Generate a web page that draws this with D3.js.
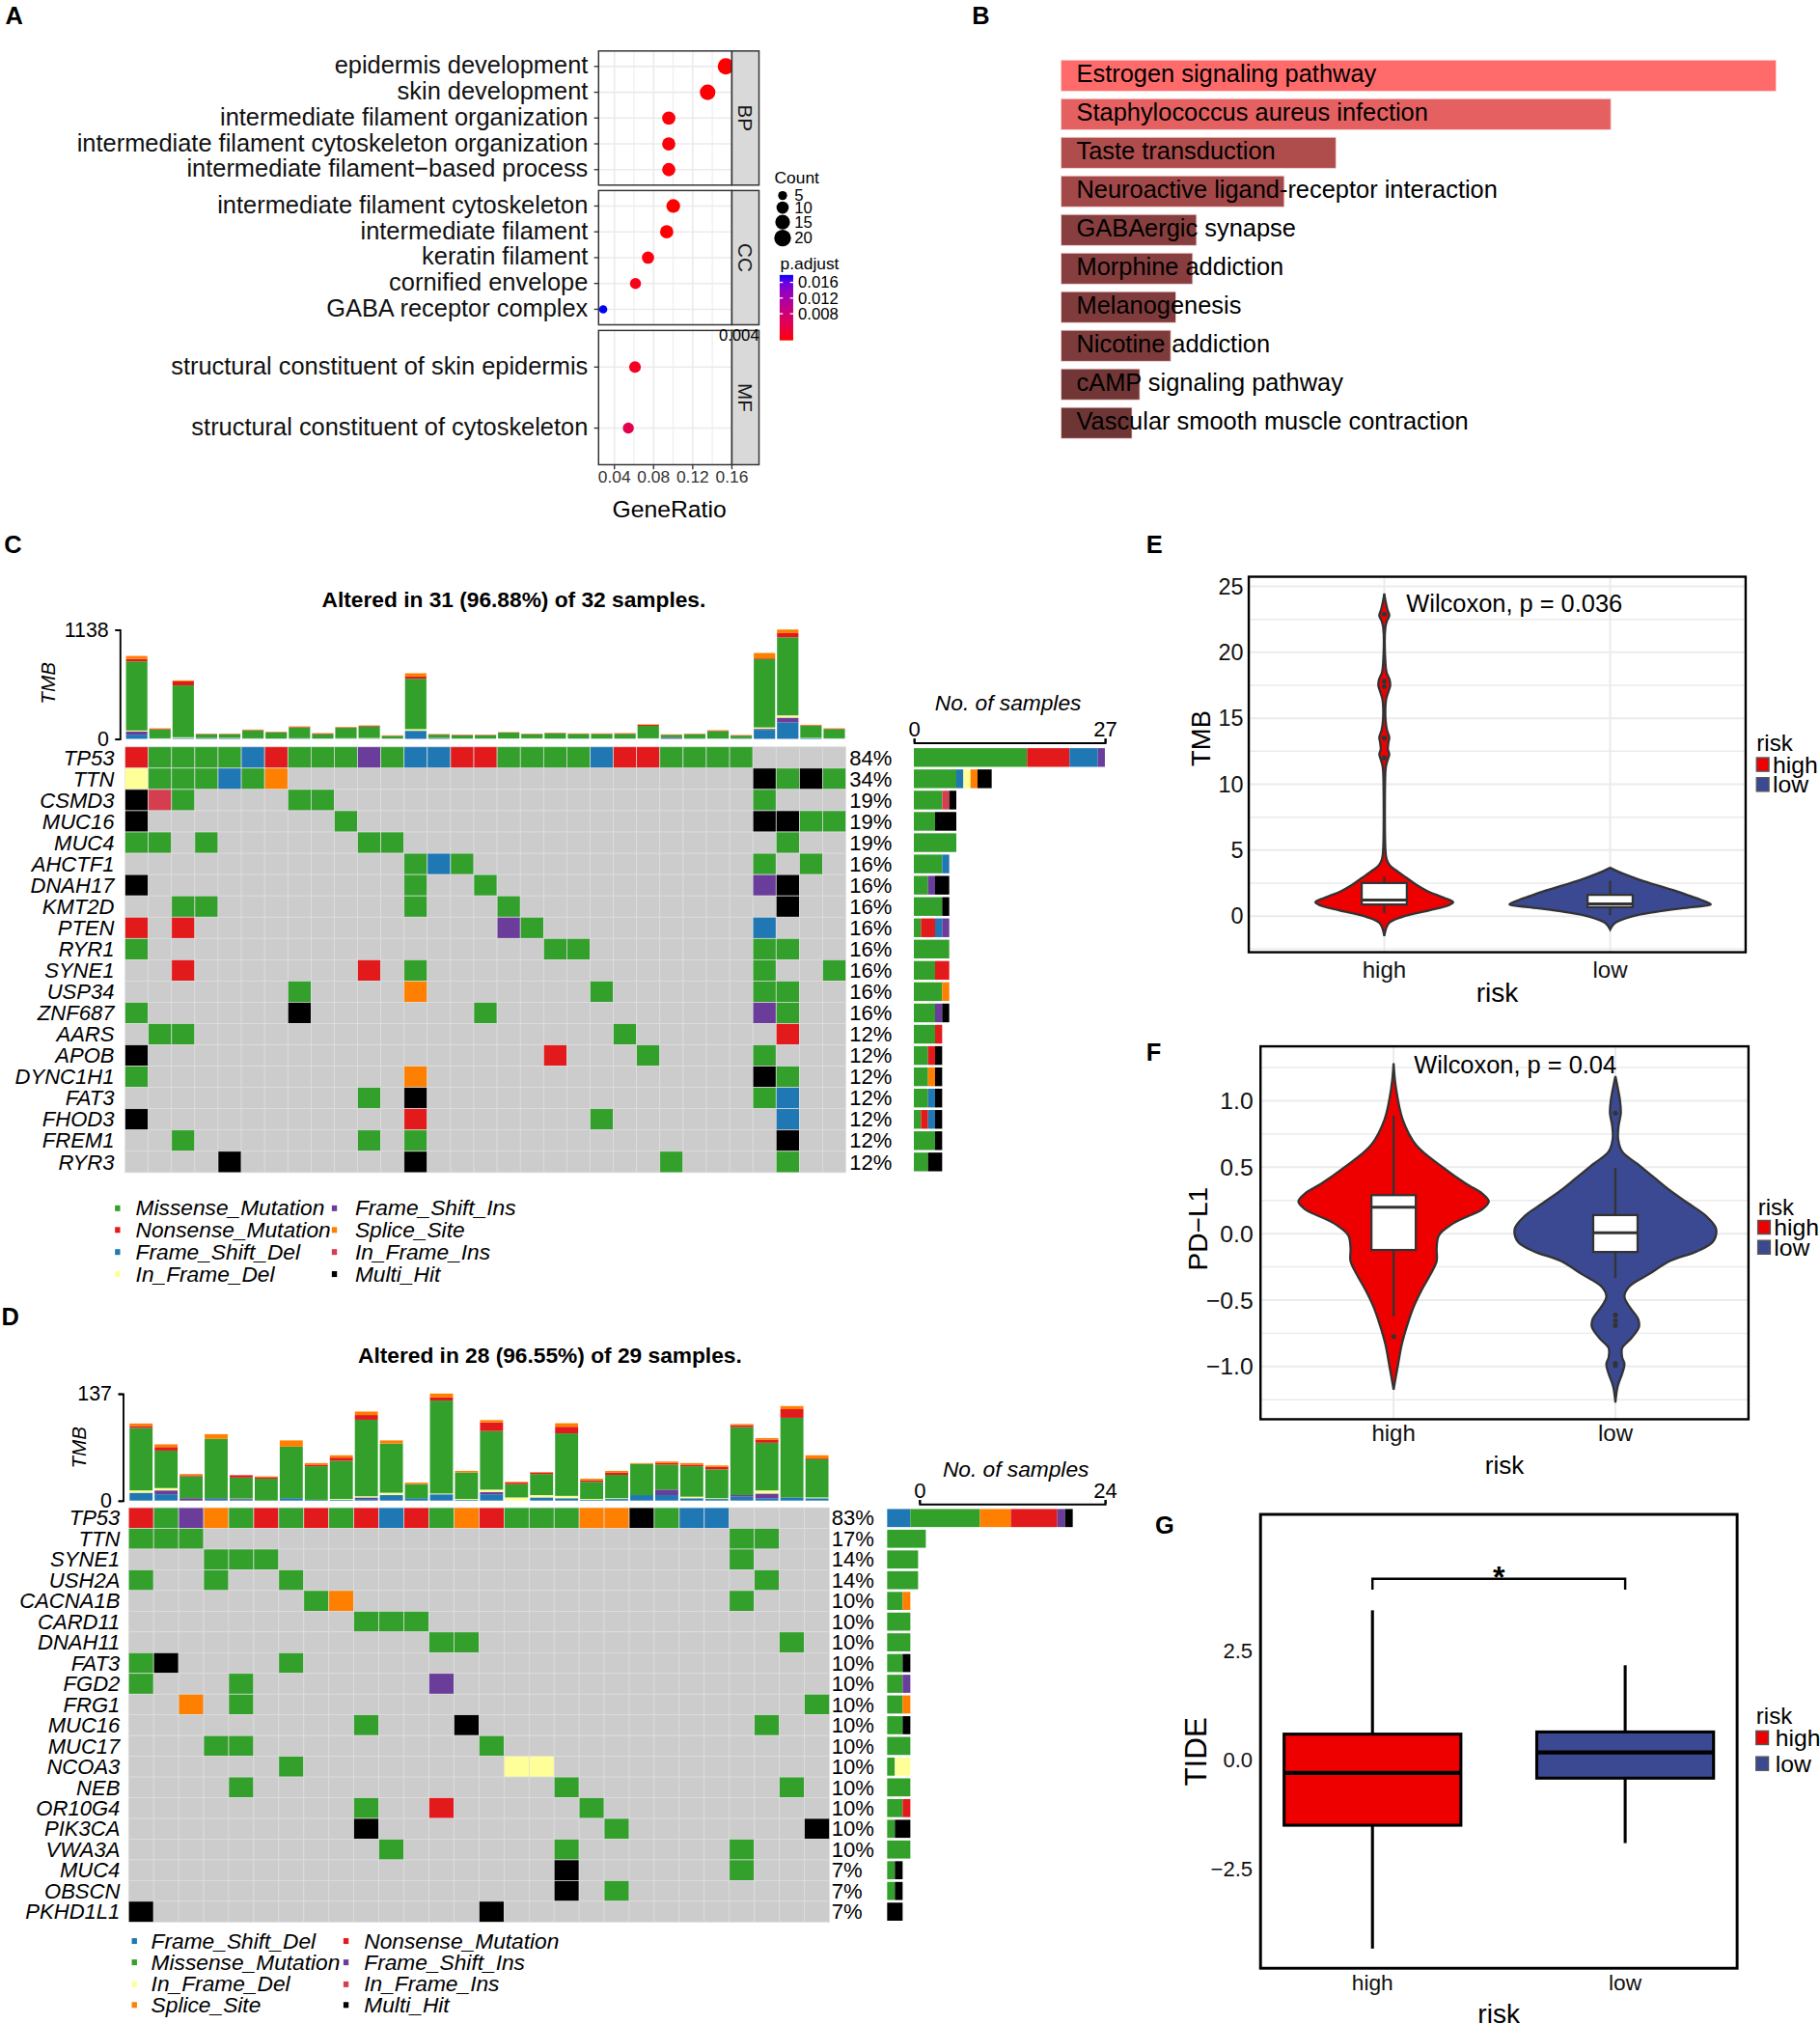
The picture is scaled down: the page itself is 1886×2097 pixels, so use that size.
<!DOCTYPE html>
<html>
<head>
<meta charset="utf-8">
<script src="https://cdn.jsdelivr.net/npm/d3@7"></script>
<style>
  html, body { margin: 0; padding: 0; background: #fff; }
  svg { display: block; font-family: "Liberation Sans", Arial, Helvetica, sans-serif; }
</style>
</head>
<body>
<div id="figure"></div>
<script>
// ================= DATA =================
// A: GO enrichment dot plot
var goTerms = ["epidermis development", "skin development", "intermediate filament organization",
  "intermediate filament cytoskeleton organization", "intermediate filament\u2212based process",
  "intermediate filament cytoskeleton", "intermediate filament", "keratin filament",
  "cornified envelope", "GABA receptor complex",
  "structural constituent of skin epidermis", "structural constituent of cytoskeleton"];
var goOnt = ["BP", "BP", "BP", "BP", "BP", "CC", "CC", "CC", "CC", "CC", "MF", "MF"];
var goRatio = [0.1538, 0.1352, 0.0955, 0.0955, 0.0955, 0.1001, 0.0934, 0.0743, 0.0615, 0.0285, 0.0610, 0.0542];
var goCount = [19, 17, 12, 12, 12, 13, 12, 10, 8, 4, 9, 8];
var goPadj = [0.0012, 0.0013, 0.0015, 0.0015, 0.0015, 0.0012, 0.0013, 0.0016, 0.0021, 0.0179, 0.0024, 0.0052];
var goXTicks = [0.04, 0.08, 0.12, 0.16];
var countBreaks = [5, 10, 15, 20];
var padjBreaks = [0.016, 0.012, 0.008];

// B: KEGG pathways
var keggTerms = ["Estrogen signaling pathway", "Staphylococcus aureus infection", "Taste transduction",
  "Neuroactive ligand-receptor interaction", "GABAergic synapse", "Morphine addiction",
  "Melanogenesis", "Nicotine addiction", "cAMP signaling pathway", "Vascular smooth muscle contraction"];
var keggScore = [5.54, 4.26, 2.13, 1.73, 1.05, 1.02, 0.89, 0.85, 0.61, 0.55];

// C: oncoplot (32 samples, 31 shown)
var cGenes = ["TP53", "TTN", "CSMD3", "MUC16", "MUC4", "AHCTF1", "DNAH17", "KMT2D", "PTEN", "RYR1",
  "SYNE1", "USP34", "ZNF687", "AARS", "APOB", "DYNC1H1", "FAT3", "FHOD3", "FREM1", "RYR3"];
// column + code: G missense, R nonsense, B frameshift del, Y inframe del, P frameshift ins, O splice, I inframe ins, K multi hit
var cHits = [
  "0R 1G 2G 3G 4G 5B 6R 7G 8G 9G 10P 11G 12B 13B 14R 15R 16G 17G 18G 19G 20B 21R 22R 23G 24G 25G 26G",
  "0Y 1G 2G 3G 4B 5G 6O 27K 28G 29K 30G",
  "0K 1I 2G 7G 8G 27G",
  "0K 9G 27K 28K 29G 30G",
  "0G 1G 3G 10G 11G 28G",
  "12G 13B 14G 27G 29G",
  "0K 12G 15G 27P 28K",
  "2G 3G 12G 16G 28K",
  "0R 2R 16P 17G 27B",
  "0G 18G 19G 27G 28G",
  "2R 10R 12G 27G 30G",
  "7G 12O 20G 27G 28G",
  "0G 7K 15G 27P 28G",
  "1G 2G 21G 28R",
  "0K 18R 22G 27G",
  "0G 12O 27K 28G",
  "10G 12K 27G 28B",
  "0K 12R 20G 28B",
  "2G 10G 12G 28K",
  "4K 12K 23G 28G"];
var cPct = ["84%", "34%", "19%", "19%", "19%", "16%", "16%", "16%", "16%", "16%", "16%", "16%", "16%",
  "12%", "12%", "12%", "12%", "12%", "12%", "12%"];
var cTmbFsd = [44, 3, 10, 4, 6, 3, 3, 4, 3, 3, 3, 3, 84, 5, 2, 2, 2, 2, 3, 3, 3, 3, 2, 6, 4, 3, 4, 94, 171, 8, 3];
var cTmbFsi = [33, 0, 0, 3, 2, 0, 0, 0, 0, 0, 0, 0, 0, 4, 0, 0, 0, 0, 0, 0, 0, 0, 0, 8, 0, 0, 0, 10, 50, 0, 0];
var cTmbInf = [10, 3, 7, 2, 3, 3, 2, 3, 2, 4, 6, 2, 17, 2, 2, 2, 3, 4, 2, 2, 2, 2, 4, 2, 2, 2, 2, 15, 23, 3, 3];
var cTmbMiss = [719, 92, 540, 39, 37, 82, 61, 112, 45, 108, 120, 25, 525, 33, 32, 33, 60, 42, 53, 46, 45, 47, 130, 26, 42, 76, 27, 710, 813, 126, 96];
var cTmbNon = [27, 6, 42, 3, 3, 4, 4, 5, 6, 4, 7, 3, 24, 3, 5, 4, 2, 3, 3, 3, 4, 4, 10, 2, 3, 4, 4, 8, 44, 5, 4];
var cTmbSpl = [30, 6, 10, 3, 3, 5, 4, 6, 4, 5, 4, 4, 33, 3, 2, 2, 3, 3, 3, 3, 3, 4, 5, 3, 3, 5, 3, 57, 37, 5, 4];
var cLegend = ["G", "R", "B", "Y", "P", "O", "I", "K"];

// D: oncoplot (29 samples, 28 shown)
var dGenes = ["TP53", "TTN", "SYNE1", "USH2A", "CACNA1B", "CARD11", "DNAH11", "FAT3", "FGD2", "FRG1",
  "MUC16", "MUC17", "NCOA3", "NEB", "OR10G4", "PIK3CA", "VWA3A", "MUC4", "OBSCN", "PKHD1L1"];
var dHits = [
  "0R 1G 2P 3O 4G 5R 6G 7R 8G 9R 10B 11R 12G 13O 14R 15G 16G 17G 18O 19O 20K 21G 22B 23B",
  "0G 1G 2G 24G 25G",
  "3G 4G 5G 24G",
  "0G 3G 6G 25G",
  "7G 8O 24G",
  "9G 10G 11G",
  "12G 13G 26G",
  "0G 1K 6G",
  "0G 4G 12P",
  "2O 4G 27G",
  "9G 13K 25G",
  "3G 4G 14G",
  "6G 15Y 16Y",
  "4G 17G 26G",
  "9G 12R 18G",
  "9K 19G 27K",
  "10G 17G 24G",
  "17K 24G",
  "17K 19G",
  "0K 14K"];
var dPct = ["83%", "17%", "14%", "14%", "10%", "10%", "10%", "10%", "10%", "10%", "10%", "10%", "10%",
  "10%", "10%", "10%", "10%", "7%", "7%", "7%"];
var dTmbFsd = [10, 8, 0, 2, 1, 0, 3, 1, 1, 2, 7, 3, 8, 1, 8, 0, 4, 3, 1, 2, 7, 7, 3, 2, 5, 3, 4, 3];
var dTmbFsi = [0, 5, 3, 1, 1, 0, 0, 0, 0, 2, 0, 0, 0, 0, 3, 0, 0, 0, 0, 0, 0, 7, 0, 0, 2, 6, 0, 0];
var dTmbInf = [3, 3, 0, 0, 0.5, 0, 0, 0, 1, 1.5, 3, 0, 1, 1, 3, 4, 3, 3, 1, 1, 0, 0, 2, 1, 0, 4, 0, 1];
var dTmbMiss = [80, 48, 28, 76, 27, 28, 66, 43, 49, 98, 63, 18, 119, 34, 75, 17, 27, 80, 22, 30, 40, 32, 39, 37, 87, 61, 102, 49];
var dTmbNon = [2.5, 4.5, 1.5, 0, 3, 2, 0, 2, 4, 6, 0, 0, 4, 0, 11, 2, 2, 8.5, 2, 3, 0, 2, 2, 3, 2.5, 4, 11, 1];
var dTmbSpl = [3.2, 3.5, 1.5, 6, 0, 1, 8, 2, 3, 4.5, 4, 2, 5, 2, 3, 1, 0.5, 4.5, 2, 2, 1, 2, 2, 2, 1.5, 2, 4, 4];
var dLegend = ["B", "G", "Y", "O", "R", "P", "I", "K"];

// E/F/G: risk groups
var riskGroups = ["high", "low"];
// violin outlines: [value, relative half width]
var eViolinHigh = [[-1.51, 0], [-0.54, 10], [-0.05, 40], [0.44, 100], [0.80, 140], [1.05, 152], [1.41, 130],
  [1.90, 95], [2.39, 70], [2.88, 50], [3.37, 30], [3.85, 12], [4.34, 5], [5.07, 2.5], [10.93, 2.5],
  [11.41, 4], [11.90, 8], [12.27, 11], [12.63, 8], [13.12, 9], [13.56, 11], [14.10, 6], [14.83, 3],
  [15.80, 2.5], [16.41, 4], [17.02, 9], [17.46, 13], [17.88, 12], [18.49, 5], [19.22, 2.5], [21.90, 2.5],
  [22.39, 6], [22.80, 11], [23.24, 7], [23.85, 3], [24.46, 0]];
var eViolinLow = [[-1.02, 0], [-0.54, 10], [-0.05, 45], [0.32, 100], [0.68, 180], [0.88, 222], [1.17, 205],
  [1.54, 175], [1.90, 145], [2.27, 110], [2.63, 75], [3.00, 45], [3.37, 18], [3.66, 0]];
var eBoxHigh = [0.24, 0.88, 1.22, 2.51, 3.0];   // lower whisker, q1, median, q3, upper whisker
var eBoxLow = [0.07, 0.68, 0.93, 1.61, 2.68];
var eOutHigh = [12.0, 13.5, 17.4, 17.8, 22.9];
var eOutLow = [];
var eTicks = [0, 5, 10, 15, 20, 25];

var fViolinHigh = [[-1.174, 0], [-1.077, 5], [-0.981, 10], [-0.835, 18], [-0.690, 30], [-0.545, 45],
  [-0.424, 62], [-0.303, 82], [-0.206, 95], [-0.109, 95], [-0.012, 100], [0.085, 135], [0.182, 195],
  [0.242, 210], [0.303, 195], [0.375, 160], [0.496, 110], [0.666, 50], [0.860, 20], [1.102, 5], [1.283, 0]];
var fViolinLow = [[-1.271, 0], [-1.150, 5], [-1.053, 15], [-0.981, 20], [-0.932, 15], [-0.860, 15],
  [-0.787, 35], [-0.702, 52], [-0.642, 50], [-0.545, 30], [-0.472, 20], [-0.400, 30], [-0.303, 75],
  [-0.206, 120], [-0.133, 180], [-0.061, 215], [0.036, 222], [0.133, 200], [0.230, 160], [0.327, 120],
  [0.424, 85], [0.521, 50], [0.617, 15], [0.714, 6], [0.811, 7], [0.908, 12], [1.005, 10], [1.102, 5], [1.186, 0]];
var fBoxHigh = [-0.622, -0.123, 0.199, 0.29, 0.889];
var fBoxLow = [-0.334, -0.138, 0.007, 0.140, 0.496];
var fOutHigh = [-0.775];
var fOutLow = [0.908, -0.613, -0.654, -0.690, -0.976, -0.993];
var fTicks = [-1, -0.5, 0, 0.5, 1];

var gBoxHigh = [-4.33, -1.5, -0.3, 0.59, 3.43];
var gBoxLow = [-1.91, -0.42, 0.17, 0.64, 2.17];
var gTicks = [-2.5, 0, 2.5];

// ================= STYLE =================
var vcColor = {G: "#33A02C", R: "#E31A1C", B: "#1F78B4", Y: "#FFFF99", P: "#6A3D9A", O: "#FF7F00", I: "#D53E4F", K: "#000000"};
var vcName = {G: "Missense_Mutation", R: "Nonsense_Mutation", B: "Frame_Shift_Del", Y: "In_Frame_Del",
  P: "Frame_Shift_Ins", O: "Splice_Site", I: "In_Frame_Ins", K: "Multi_Hit"};
var tmbColor = {fsd: "#1F78B4", fsi: "#6A3D9A", inf: "#FFFF99", miss: "#33A02C", non: "#E31A1C", spl: "#FF7F00"};
var riskColor = {high: "#EE0000", low: "#3B4992"};

var svg = d3.select("#figure").append("svg")
  .attr("width", 1886).attr("height", 2097)
  .attr("viewBox", "0 0 1410 1568");

// panel letters
[["A", 4, 18.7], ["B", 753, 18.5], ["C", 3, 428.6], ["D", 1, 1026.7], ["E", 888, 428.6], ["F", 888, 822], ["G", 895, 1188]]
  .forEach(function(l) {
    svg.append("text").attr("x", l[1]).attr("y", l[2]).attr("font-size", 19).attr("font-weight", "bold").text(l[0]);
  });

// ================= A =================
var ax0 = 463.7, ax1 = 567, stripW = 21;
var facets = {BP: [39.5, 143.4], CC: [147.6, 251.6], MF: [256, 360]};
var xGo = d3.scaleLinear().domain([0.0238, 0.16]).range([ax0, ax1]);
var rGo = d3.scaleLinear().domain([Math.sqrt(5), Math.sqrt(20)]).range([3.5, 6.5]);
var colGo = d3.scaleLinear().domain([0.0012, 0.0179]).range(["red", "blue"]).interpolate(d3.interpolateLab);
var defs = svg.append("defs");
var gA = svg.append("g");

["BP", "CC", "MF"].forEach(function(ont) {
  var idx = d3.range(goTerms.length).filter(function(i) { return goOnt[i] === ont; });
  var top = facets[ont][0], bot = facets[ont][1];
  var y = d3.scalePoint().domain(idx).range([top, bot]).padding(0.6);
  var pg = gA.append("g");
  pg.append("rect").attr("x", ax0).attr("y", top).attr("width", ax1 - ax0).attr("height", bot - top).attr("fill", "#fff");
  d3.range(0.04, 0.155, 0.02).forEach(function(v, k) {
    pg.append("line").attr("x1", xGo(v)).attr("x2", xGo(v)).attr("y1", top).attr("y2", bot)
      .attr("stroke", "#ebebeb").attr("stroke-width", k % 2 === 0 ? 1.2 : 0.7);
  });
  idx.forEach(function(i) {
    pg.append("line").attr("x1", ax0).attr("x2", ax1).attr("y1", y(i)).attr("y2", y(i))
      .attr("stroke", "#ebebeb").attr("stroke-width", 1.2);
  });
  defs.append("clipPath").attr("id", "clip" + ont).append("rect")
    .attr("x", ax0).attr("y", top).attr("width", ax1 - ax0).attr("height", bot - top);
  pg.append("g").attr("clip-path", "url(#clip" + ont + ")")
    .selectAll("circle").data(idx).join("circle")
    .attr("cx", function(i) { return xGo(goRatio[i]); })
    .attr("cy", function(i) { return y(i); })
    .attr("r", function(i) { return rGo(Math.sqrt(goCount[i])); })
    .attr("fill", function(i) { return colGo(goPadj[i]); });
  pg.append("rect").attr("x", ax0).attr("y", top).attr("width", ax1 - ax0).attr("height", bot - top)
    .attr("fill", "none").attr("stroke", "#333").attr("stroke-width", 1.1);
  pg.append("rect").attr("x", ax1).attr("y", top).attr("width", stripW).attr("height", bot - top)
    .attr("fill", "#d9d9d9").attr("stroke", "#333").attr("stroke-width", 1.1);
  pg.append("text").attr("transform", "translate(" + (ax1 + stripW / 2) + "," + ((top + bot) / 2) + ") rotate(90)")
    .attr("text-anchor", "middle").attr("dy", "0.35em").attr("font-size", 15.5).attr("fill", "#1a1a1a").text(ont);
  idx.forEach(function(i) {
    pg.append("line").attr("x1", ax0 - 3.5).attr("x2", ax0).attr("y1", y(i)).attr("y2", y(i)).attr("stroke", "#333");
    pg.append("text").attr("x", 455.5).attr("y", y(i) - 1).attr("dy", "0.35em").attr("text-anchor", "end")
      .attr("font-size", 19).attr("fill", "#111").text(goTerms[i]);
  });
});
goXTicks.forEach(function(v) {
  gA.append("line").attr("x1", xGo(v)).attr("x2", xGo(v)).attr("y1", 360).attr("y2", 363.5).attr("stroke", "#333");
  gA.append("text").attr("x", xGo(v)).attr("y", 374).attr("text-anchor", "middle").attr("font-size", 13)
    .attr("fill", "#333").text(v.toFixed(2));
});
gA.append("text").attr("x", 518.5).attr("y", 400.5).attr("text-anchor", "middle").attr("font-size", 18.5).text("GeneRatio");
// Count legend
gA.append("text").attr("x", 600).attr("y", 142).attr("font-size", 13).text("Count");
var countY = [151.5, 160.8, 172, 184.4];
countBreaks.forEach(function(c, k) {
  gA.append("circle").attr("cx", 606.3).attr("cy", countY[k]).attr("r", rGo(Math.sqrt(c))).attr("fill", "#000");
  gA.append("text").attr("x", 615.5).attr("y", countY[k]).attr("dy", "0.35em").attr("font-size", 12.5).text(c);
});
// p.adjust colorbar
gA.append("text").attr("x", 604.5).attr("y", 208.5).attr("font-size", 13).text("p.adjust");
var grad = defs.append("linearGradient").attr("id", "padjGrad").attr("x1", 0).attr("x2", 0).attr("y1", 1).attr("y2", 0);
d3.range(0, 1.001, 0.1).forEach(function(t) {
  grad.append("stop").attr("offset", t).attr("stop-color", colGo(0.0012 + t * (0.0179 - 0.0012)));
});
var yBar = d3.scaleLinear().domain([0.0012, 0.0179]).range([263.7, 213]);
gA.append("rect").attr("x", 604).attr("y", 213).attr("width", 10.5).attr("height", 50.7).attr("fill", "url(#padjGrad)");
padjBreaks.forEach(function(v) {
  gA.append("line").attr("x1", 604).attr("x2", 606.5).attr("y1", yBar(v)).attr("y2", yBar(v)).attr("stroke", "#fff");
  gA.append("line").attr("x1", 612).attr("x2", 614.5).attr("y1", yBar(v)).attr("y2", yBar(v)).attr("stroke", "#fff");
  gA.append("text").attr("x", 618.3).attr("y", yBar(v)).attr("dy", "0.35em").attr("font-size", 12.5).text(v.toFixed(3));
});
gA.append("text").attr("x", 572.5).attr("y", 264).attr("text-anchor", "middle").attr("font-size", 12.5).text("0.004");

// ================= B =================
var gB = svg.append("g");
var xK = d3.scaleLinear().domain([0, d3.max(keggScore)]).range([822, 1376]);
var yK = d3.scaleBand().domain(keggTerms).range([43.6, 342.6]).paddingInner(0.197).paddingOuter(0.0985);
var colK = d3.scalePow().exponent(0.5).domain([d3.min(keggScore), d3.max(keggScore)]).range(["#6e3535", "#ff6a6a"]);
gB.selectAll("rect").data(keggTerms).join("rect")
  .attr("x", xK(0)).attr("y", function(d) { return yK(d); })
  .attr("width", function(d, i) { return xK(keggScore[i]) - xK(0); })
  .attr("height", yK.bandwidth())
  .attr("fill", function(d, i) { return colK(keggScore[i]); })
  .attr("stroke", "#f6d6d6").attr("stroke-width", 0.6);
gB.selectAll("text").data(keggTerms).join("text")
  .attr("x", 834).attr("y", function(d) { return yK(d) + yK.bandwidth() / 2 - 1.5; })
  .attr("dy", "0.35em").attr("font-size", 19).attr("fill", "#000").text(function(d) { return d; });

// ================= C / D =================
function parseHits(s) {
  return s.split(" ").map(function(t) { return {col: +t.slice(0, -1), code: t.slice(-1)}; });
}
function oncoplot(o) {
  var g = svg.append("g");
  var x = d3.scaleBand().domain(d3.range(o.ncol)).range([o.x0, o.x1]);
  var y = d3.scaleBand().domain(o.genes).range([o.top, o.top + o.genes.length * o.rowH]);
  g.append("text").attr("x", o.titleX).attr("y", o.titleY).attr("text-anchor", "middle")
    .attr("font-size", 17).attr("font-weight", "bold").text(o.title);

  // TMB stacked bars
  var keys = ["fsd", "fsi", "inf", "miss", "non", "spl"];
  var rows = d3.range(o.ncol).map(function(i) {
    var r = {i: i};
    keys.forEach(function(k) { r[k] = o.tmb[k][i]; });
    return r;
  });
  var yT = d3.scaleLinear().domain([0, o.tmbMax]).range([o.tmbBase, o.tmbTop]);
  g.append("g").selectAll("g").data(d3.stack().keys(keys)(rows)).join("g")
    .attr("fill", function(d) { return tmbColor[d.key]; })
    .selectAll("rect").data(function(d) { return d; }).join("rect")
    .attr("x", function(d) { return x(d.data.i) + x.bandwidth() * 0.04; })
    .attr("width", x.bandwidth() * 0.92)
    .attr("y", function(d) { return yT(d[1]); })
    .attr("height", function(d) { return Math.max(0, yT(d[0]) - yT(d[1])); });
  var axL = g.append("g").attr("transform", "translate(" + o.axisX + ",0)")
    .call(d3.axisLeft(yT).tickValues([0, o.tmbMax]).tickSize(3.5).tickSizeOuter(3.5).tickPadding(5).tickFormat(d3.format("d")));
  axL.attr("font-family", null).attr("font-size", null);
  axL.selectAll("path,line").attr("stroke", "#000").attr("stroke-width", 1.4);
  axL.selectAll("text").attr("font-size", 16).attr("fill", "#000");
  g.append("text").attr("transform", "translate(" + o.tmbLabel[0] + "," + o.tmbLabel[1] + ") rotate(-90)")
    .attr("text-anchor", "middle").attr("dy", "0.35em").attr("font-size", 15.5).attr("font-style", "italic").text("TMB");

  // matrix
  g.append("g").selectAll("g").data(o.genes).join("g").each(function(gene, r) {
    var row = d3.select(this);
    var hits = parseHits(o.hits[r]);
    var byCol = {};
    hits.forEach(function(h) { byCol[h.col] = h.code; });
    row.selectAll("rect").data(d3.range(o.ncol)).join("rect")
      .attr("x", function(c) { return x(c); }).attr("y", y(gene))
      .attr("width", x.bandwidth()).attr("height", y.bandwidth())
      .attr("fill", function(c) { return byCol[c] ? vcColor[byCol[c]] : "#CCCCCC"; })
      .attr("stroke", "#dedede").attr("stroke-width", 0.5);
    row.append("text").attr("x", o.labelX).attr("y", y(gene) + y.bandwidth() / 2).attr("dy", "0.35em")
      .attr("text-anchor", "end").attr("font-size", 16.5).attr("font-style", "italic").text(gene);
    row.append("text").attr("x", o.pctX).attr("y", y(gene) + y.bandwidth() / 2).attr("dy", "0.35em")
      .attr("font-size", 16.5).text(o.pct[r]);
    // side bar
    var counts = o.legend.map(function(code) {
      return {code: code, n: hits.filter(function(h) { return h.code === code; }).length};
    });
    var acc = 0;
    var bh = o.sideBarH;
    counts.forEach(function(c) {
      if (!c.n) return;
      row.append("rect").attr("x", o.sideX + o.sideScale(acc)).attr("y", y(gene) + (y.bandwidth() - bh) / 2)
        .attr("width", o.sideScale(c.n)).attr("height", bh).attr("fill", vcColor[c.code]);
      acc += c.n;
    });
  });

  // side axis
  var sx = d3.scaleLinear().domain([0, o.sideMax]).range([o.sideAxisX, o.sideAxisX + o.sideScale(o.sideMax)]);
  var axT = g.append("g").attr("transform", "translate(0," + o.sideAxisY + ")")
    .call(d3.axisTop(sx).tickValues([0, o.sideMax]).tickSize(3).tickSizeOuter(3).tickPadding(1.5));
  axT.attr("font-family", null).attr("font-size", null);
  axT.selectAll("path,line").attr("stroke", "#000").attr("stroke-width", 1.5);
  axT.selectAll("text").attr("font-size", 16.5).attr("fill", "#000");
  g.append("text").attr("x", o.sideTitle[0]).attr("y", o.sideTitle[1]).attr("text-anchor", "middle")
    .attr("font-size", 17).attr("font-style", "italic").text("No. of samples");

  // legend (two columns of four)
  o.legend.forEach(function(code, k) {
    var col = Math.floor(k / 4), rr = k % 4;
    var cy = o.legRows[rr];
    g.append("rect").attr("x", o.legSq[col]).attr("y", cy - 2).attr("width", 4).attr("height", 4.5)
      .attr("fill", vcColor[code]);
    g.append("text").attr("x", o.legTx[col]).attr("y", cy).attr("dy", "0.35em").attr("font-size", 17)
      .attr("font-style", "italic").text(vcName[code]);
  });
}

oncoplot({
  title: "Altered in 31 (96.88%) of 32 samples.", titleX: 398, titleY: 470.5,
  genes: cGenes, hits: cHits, pct: cPct, legend: cLegend, ncol: 31,
  x0: 96.8, x1: 655.3, top: 578.6, rowH: 16.49,
  tmb: {fsd: cTmbFsd, fsi: cTmbFsi, inf: cTmbInf, miss: cTmbMiss, non: cTmbNon, spl: cTmbSpl},
  tmbMax: 1138, tmbBase: 572.4, tmbTop: 487.7, axisX: 92.7, tmbLabel: [37.4, 529.3],
  labelX: 88.5, pctX: 658,
  sideX: 708, sideMax: 27, sideScale: d3.scaleLinear().domain([0, 27]).range([0, 148]), sideBarH: 14.5,
  sideAxisX: 708, sideAxisY: 575.2, sideTitle: [781, 550],
  legSq: [89, 257], legTx: [105, 275], legRows: [935.8, 952.6, 969.7, 986.8]
});
oncoplot({
  title: "Altered in 28 (96.55%) of 29 samples.", titleX: 426, titleY: 1055.5,
  genes: dGenes, hits: dHits, pct: dPct, legend: dLegend, ncol: 28,
  x0: 99.5, x1: 642.6, top: 1168, rowH: 16.05,
  tmb: {fsd: dTmbFsd, fsi: dTmbFsi, inf: dTmbInf, miss: dTmbMiss, non: dTmbNon, spl: dTmbSpl},
  tmbMax: 137, tmbBase: 1162.5, tmbTop: 1079.6, axisX: 95.1, tmbLabel: [60.8, 1121.4],
  labelX: 92.9, pctX: 644.2,
  sideX: 687.3, sideMax: 24, sideScale: d3.scaleLinear().domain([0, 24]).range([0, 143.8]), sideBarH: 14,
  sideAxisX: 712.2, sideAxisY: 1165, sideTitle: [787, 1144],
  legSq: [102, 266], legTx: [117, 282], legRows: [1503.5, 1520, 1537, 1553]
});

// ================= E / F / G =================
var wScale = d3.scaleLinear().domain([0, 222]).range([0, 78]);

function drawBox(g, cx, hw, b, y, fill, stroke, sw) {
  g.append("line").attr("x1", cx).attr("x2", cx).attr("y1", y(b[4])).attr("y2", y(b[3])).attr("stroke", stroke).attr("stroke-width", sw);
  g.append("line").attr("x1", cx).attr("x2", cx).attr("y1", y(b[1])).attr("y2", y(b[0])).attr("stroke", stroke).attr("stroke-width", sw);
  g.append("rect").attr("x", cx - hw).attr("y", y(b[3])).attr("width", 2 * hw).attr("height", y(b[1]) - y(b[3]))
    .attr("fill", fill).attr("stroke", stroke).attr("stroke-width", sw);
  g.append("line").attr("x1", cx - hw).attr("x2", cx + hw).attr("y1", y(b[2])).attr("y2", y(b[2]))
    .attr("stroke", stroke).attr("stroke-width", sw * 1.35);
}

function statPanel(o) {
  var g = svg.append("g");
  var x = d3.scalePoint().domain(riskGroups).range([o.x0, o.x1]).padding(o.pad);
  var y = d3.scaleLinear().domain(o.yDomain).range([o.y1, o.y0]);
  g.append("rect").attr("x", o.x0).attr("y", o.y0).attr("width", o.x1 - o.x0).attr("height", o.y1 - o.y0).attr("fill", "#fff");
  if (o.gridStep) {
    var lo = Math.ceil(o.yDomain[0] / o.gridStep), hi = Math.floor(o.yDomain[1] / o.gridStep);
    d3.range(lo, hi + 1).forEach(function(k) {
      g.append("line").attr("x1", o.x0).attr("x2", o.x1).attr("y1", y(k * o.gridStep)).attr("y2", y(k * o.gridStep))
        .attr("stroke", "#ebebeb").attr("stroke-width", k % 2 === 0 ? 1.5 : 1.1);
    });
    riskGroups.forEach(function(grp) {
      g.append("line").attr("x1", x(grp)).attr("x2", x(grp)).attr("y1", o.y0).attr("y2", o.y1)
        .attr("stroke", "#ebebeb").attr("stroke-width", 1.5);
    });
  }
  riskGroups.forEach(function(grp, k) {
    var cx = x(grp);
    if (o.violins) {
      var area = d3.area().curve(d3.curveCatmullRom)
        .y(function(d) { return y(d[0]); })
        .x0(function(d) { return cx - wScale(d[1]); })
        .x1(function(d) { return cx + wScale(d[1]); });
      g.append("path").attr("d", area(o.violins[k])).attr("fill", riskColor[grp])
        .attr("stroke", "#333").attr("stroke-width", 1.7);
      drawBox(g, cx, o.boxHW, o.boxes[k], y, "#fff", "#333", 1.7);
      o.outliers[k].forEach(function(v) {
        g.append("circle").attr("cx", cx).attr("cy", y(v)).attr("r", 1.9).attr("fill", "#333");
      });
    } else {
      drawBox(g, cx, o.boxHW, o.boxes[k], y, riskColor[grp], "#000", 2.3);
    }
    g.append("text").attr("x", cx).attr("y", o.xLabY).attr("text-anchor", "middle").attr("font-size", o.xLabSize)
      .attr("fill", "#111").text(grp);
  });
  g.append("rect").attr("x", o.x0).attr("y", o.y0).attr("width", o.x1 - o.x0).attr("height", o.y1 - o.y0)
    .attr("fill", "none").attr("stroke", "#000").attr("stroke-width", o.frameW);
  o.ticks.forEach(function(v) {
    g.append("text").attr("x", o.tickX).attr("y", y(v)).attr("dy", "0.35em").attr("text-anchor", "end")
      .attr("font-size", o.tickSize).attr("fill", "#111").text(o.tickFmt(v));
  });
  g.append("text").attr("transform", "translate(" + o.yTitle[0] + "," + o.yTitle[1] + ") rotate(-90)")
    .attr("text-anchor", "middle").attr("dy", "0.35em").attr("font-size", o.yTitleSize).text(o.yTitleText);
  g.append("text").attr("x", (o.x0 + o.x1) / 2).attr("y", o.xTitleY).attr("text-anchor", "middle")
    .attr("font-size", o.xTitleSize).text("risk");
  if (o.note) {
    g.append("text").attr("x", o.note[0]).attr("y", o.note[1]).attr("font-size", 19).text(o.note[2]);
  }
  // legend
  var L = o.legend;
  g.append("text").attr("x", L.x).attr("y", L.titleY).attr("font-size", 18).text("risk");
  riskGroups.forEach(function(grp, k) {
    g.append("rect").attr("x", L.x).attr("y", L.sqY[k]).attr("width", 9.5).attr("height", 10.5)
      .attr("fill", riskColor[grp]).attr("stroke", "#555").attr("stroke-width", 1.1);
    g.append("text").attr("x", L.tx).attr("y", L.sqY[k] + 5.2).attr("dy", "0.35em").attr("font-size", 18.5).text(grp);
  });
  return {x: x, y: y, g: g};
}

statPanel({
  x0: 967.5, x1: 1352.5, y0: 446.8, y1: 737.7, pad: 0.6, yDomain: [-2.74, 25.73], gridStep: 2.5,
  violins: [eViolinHigh, eViolinLow], boxes: [eBoxHigh, eBoxLow], outliers: [eOutHigh, eOutLow], boxHW: 17.5,
  ticks: eTicks, tickFmt: d3.format("d"), tickX: 963.3, tickSize: 17.5,
  xLabY: 757.5, xLabSize: 18, xTitleY: 776, xTitleSize: 21,
  yTitle: [930, 572], yTitleSize: 20.5, yTitleText: "TMB", frameW: 1.8,
  note: [1089.6, 474, "Wilcoxon, p = 0.036"],
  legend: {x: 1361, titleY: 582, sqY: [587, 602.5], tx: 1373.5}
});
statPanel({
  x0: 976.6, x1: 1354.7, y0: 810.6, y1: 1099.5, pad: 0.6, yDomain: [-1.397, 1.41], gridStep: 0.25,
  violins: [fViolinHigh, fViolinLow], boxes: [fBoxHigh, fBoxLow], outliers: [fOutHigh, fOutLow], boxHW: 17.2,
  ticks: fTicks, tickFmt: function(v) { return d3.format(".1f")(v).replace("-", "\u2212"); }, tickX: 971, tickSize: 18.5,
  xLabY: 1116.5, xLabSize: 18, xTitleY: 1142, xTitleSize: 19.5,
  yTitle: [928, 952], yTitleSize: 21, yTitleText: "PD\u2212L1", frameW: 1.8,
  note: [1095.6, 831.5, "Wilcoxon, p = 0.04"],
  legend: {x: 1362, titleY: 941.5, sqY: [945.5, 961], tx: 1374.5}
});
var pG = statPanel({
  x0: 976.6, x1: 1345.9, y0: 1173.2, y1: 1524.8, pad: 0.443, yDomain: [-4.78, 5.63], gridStep: 0,
  violins: null, boxes: [gBoxHigh, gBoxLow], outliers: [[], []], boxHW: 68.5,
  ticks: gTicks, tickFmt: d3.format(".1f"), tickX: 970.5, tickSize: 16.5,
  xLabY: 1542, xLabSize: 17, xTitleY: 1567, xTitleSize: 21,
  yTitle: [926.3, 1357], yTitleSize: 23.5, yTitleText: "TIDE", frameW: 2.2,
  note: null,
  legend: {x: 1360.6, titleY: 1335.5, sqY: [1341, 1361], tx: 1375.6}
});
// significance bracket
var bx1 = pG.x("high"), bx2 = pG.x("low");
pG.g.append("path").attr("d", "M" + bx1 + ",1231.5V1223.1H" + bx2 + "V1231.5")
  .attr("fill", "none").attr("stroke", "#000").attr("stroke-width", 1.8);
pG.g.append("text").attr("x", (bx1 + bx2) / 2).attr("y", 1230).attr("text-anchor", "middle")
  .attr("font-size", 24).attr("font-weight", "bold").text("*");
</script>
</body>
</html>
